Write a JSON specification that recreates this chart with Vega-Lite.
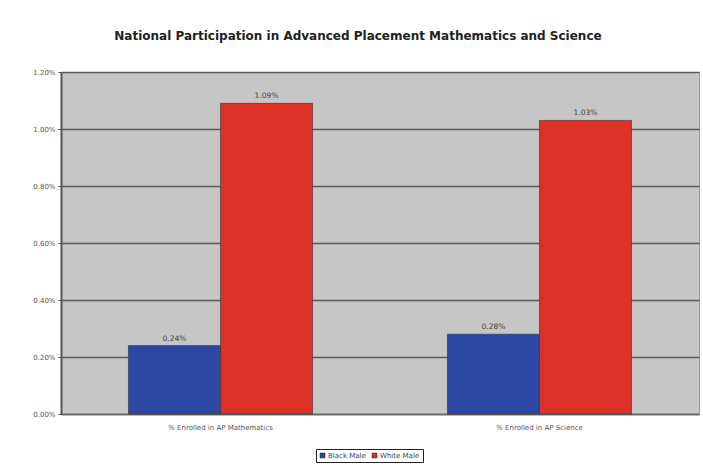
{
  "$schema": "https://vega.github.io/schema/vega-lite/v6.json",
  "width": 638,
  "height": 342,
  "autosize": "none",
  "padding": {"left": 61, "top": 72, "right": 4, "bottom": 53},
  "background": "white",
  "title": {
    "text": "National Participation in Advanced Placement Mathematics and Science",
    "font": "DejaVu Sans",
    "fontSize": 12,
    "fontWeight": "bold",
    "color": "#222",
    "anchor": "middle",
    "offset": 25,
    "dx": -22
  },
  "data": {
    "values": [
      {"subject": "% Enrolled in AP Mathematics", "group": "Black Male", "value": 0.0024},
      {"subject": "% Enrolled in AP Mathematics", "group": "White Male", "value": 0.0109},
      {"subject": "% Enrolled in AP Science", "group": "Black Male", "value": 0.0028},
      {"subject": "% Enrolled in AP Science", "group": "White Male", "value": 0.0103}
    ]
  },
  "encoding": {
    "x": {
      "field": "subject",
      "type": "nominal",
      "sort": null,
      "scale": {"paddingInner": 0, "paddingOuter": 0},
      "axis": {
        "title": null,
        "labelAngle": 0,
        "labelFont": "DejaVu Sans",
        "labelFontSize": 7,
        "labelColor": "#555",
        "labelPadding": 9,
        "ticks": false,
        "domainColor": "#666",
        "domainWidth": 1.5
      }
    },
    "xOffset": {
      "field": "group",
      "type": "nominal",
      "scale": {"paddingInner": 0, "paddingOuter": 0.733}
    },
    "y": {
      "field": "value",
      "type": "quantitative",
      "scale": {"domain": [0, 0.012]},
      "axis": {
        "title": null,
        "format": ".2%",
        "values": [0, 0.002, 0.004, 0.006, 0.008, 0.01, 0.012],
        "labelFont": "DejaVu Sans",
        "labelFontSize": 7,
        "labelColor": "#555",
        "labelPadding": 3,
        "tickSize": 3,
        "tickColor": "#555",
        "domainColor": "#555",
        "domainWidth": 2,
        "gridColor": "#5a5a5a",
        "gridWidth": 1.5
      }
    }
  },
  "layer": [
    {
      "mark": {"type": "bar", "stroke": "#333", "strokeWidth": 0.6},
      "encoding": {
        "color": {
          "field": "group",
          "type": "nominal",
          "scale": {"domain": ["Black Male", "White Male"], "range": ["#2d48a3", "#dc3127"]},
          "legend": {
            "title": null,
            "orient": "none",
            "legendX": 255,
            "legendY": 377,
            "direction": "horizontal",
            "padding": 3,
            "strokeColor": "#222",
            "symbolType": "square",
            "symbolSize": 25,
            "symbolStrokeColor": "#222",
            "symbolStrokeWidth": 0.5,
            "labelFont": "DejaVu Sans",
            "labelFontSize": 7,
            "labelColor": "#444",
            "labelOffset": 2,
            "columnPadding": 5
          }
        }
      }
    },
    {
      "mark": {
        "type": "text",
        "dy": -7,
        "font": "DejaVu Sans",
        "fontSize": 7.5,
        "color": "#444"
      },
      "encoding": {
        "text": {"field": "value", "type": "quantitative", "format": ".2%"}
      }
    }
  ],
  "config": {
    "view": {"fill": "#c6c6c6", "stroke": "#999", "strokeWidth": 1}
  }
}
